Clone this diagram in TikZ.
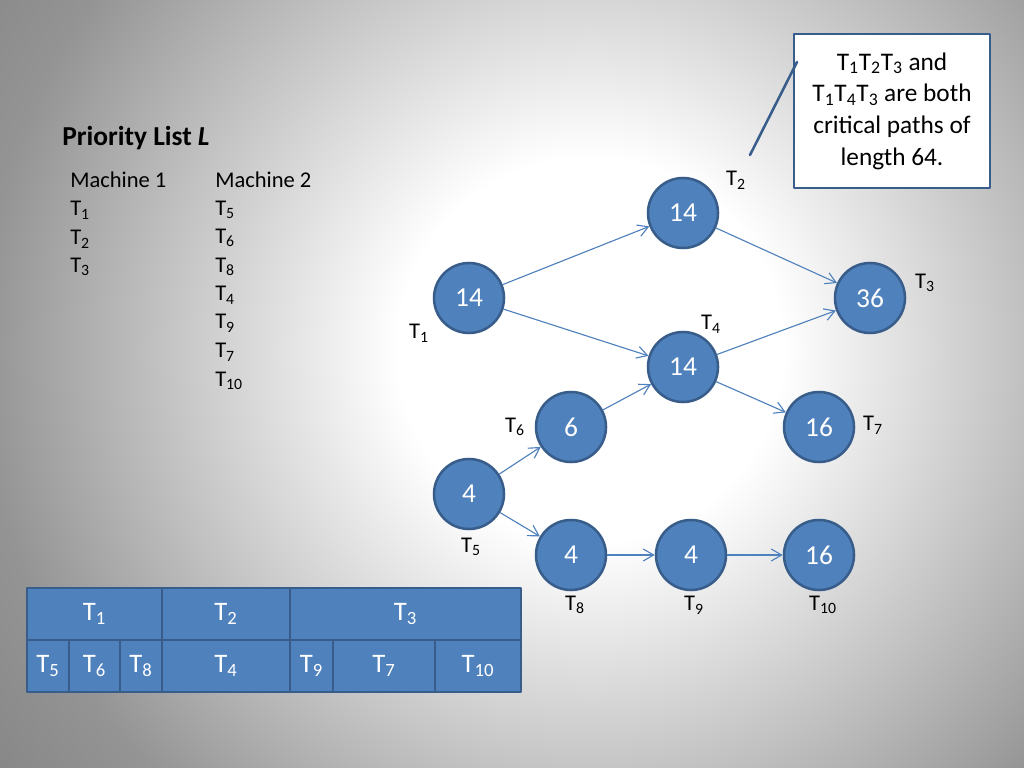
\documentclass[tikz,border=0pt]{standalone}
\usepackage{fontspec}
\setmainfont{Carlito}
\usetikzlibrary{arrows.meta}
\pgfdeclareradialshading{bgglow}{\pgfpoint{0bp}{0bp}}{%
  color(0bp)=(white); color(6bp)=(white); color(19bp)=(black!42); color(25bp)=(black!50); color(50bp)=(black!50)}
\newcommand{\tk}[1]{T\textsubscript{#1}}
\begin{document}
\begin{tikzpicture}[x=0.025cm,y=-0.025cm,line cap=round,line join=round,
  task/.style={circle,fill=nodefill,draw=nodeedge,line width=1.8pt,minimum size=70*0.025cm,
    inner sep=0pt,text=white,font=\fontsize{19.5}{21}\selectfont},
  tlabel/.style={font=\fontsize{16}{18}\selectfont,inner sep=0pt},
  listtxt/.style={anchor=west,font=\fontsize{16}{18}\selectfont,inner sep=0pt},
  prec/.style={draw=nodefill,line width=0.8pt,-{Straight Barb[length=2.6mm,width=3mm]}},
  cell/.style={fill=nodefill,draw=nodeedge,line width=1.4pt},
  celltxt/.style={text=white,font=\fontsize{19}{21}\selectfont,inner sep=0pt}]
  \definecolor{nodefill}{RGB}{79,129,189}
  \definecolor{nodeedge}{RGB}{56,93,138}

  % ---- background ----
  \useasboundingbox (0,0) rectangle (1024,768);
  \begin{scope}
    \clip (0,0) rectangle (1024,768);
    \fill[black!50] (0,0) rectangle (1024,768);
    \shade[shading=bgglow] (590,350) circle (800);
  \end{scope}

  % ---- priority list ----
  \node[anchor=west,inner sep=0pt,font=\bfseries\fontsize{19.5}{21}\selectfont] (title) at (62,138) {Priority List \textit{L}};
  \node[listtxt] (m1) at (70,180) {Machine 1};
  \node[listtxt] (m2) at (215,180) {Machine 2};
  \foreach \t/\y in {1/210,2/239,3/267} {
    \node[listtxt] (la\t) at (70,\y) {\tk{\t}};
  }
  \foreach \t/\y in {5/210,6/238,8/267,4/295,9/323,7/352,10/381} {
    \node[listtxt] (lb\t) at (215,\y) {\tk{\t}};
  }

  % ---- task graph ----
  \node[task] (t1) at (469,298) {14};
  \node[task] (t2) at (683,213) {14};
  \node[task] (t3) at (870,298) {36};
  \node[task] (t4) at (683,367) {14};
  \node[task] (t5) at (469,494) {4};
  \node[task] (t6) at (571,427) {6};
  \node[task] (t7) at (819,427) {16};
  \node[task] (t8) at (571,555) {4};
  \node[task] (t9) at (691,555) {4};
  \node[task] (t10) at (819,555) {16};

  \node[tlabel] (n1) at (419,333) {\tk{1}};
  \node[tlabel] (n2) at (736,180) {\tk{2}};
  \node[tlabel] (n3) at (925,283) {\tk{3}};
  \node[tlabel] (n4) at (711,324) {\tk{4}};
  \node[tlabel] (n5) at (471,547) {\tk{5}};
  \node[tlabel] (n6) at (515,427) {\tk{6}};
  \node[tlabel] (n7) at (873,425) {\tk{7}};
  \node[tlabel] (n8) at (575,605) {\tk{8}};
  \node[tlabel] (n9) at (694,605) {\tk{9}};
  \node[tlabel] (n10) at (823,605) {\tk{10}};

  \foreach \a/\b in {t1/t2,t1/t4,t2/t3,t4/t3,t4/t7,t6/t4,t5/t6,t5/t8,t8/t9,t9/t10} {
    \draw[prec] (\a) -- (\b);
  }

  % ---- callout ----
  \node[draw=nodeedge,fill=white,line width=1.6pt,minimum width=196*0.025cm,minimum height=154*0.025cm,
    align=center,font=\fontsize{18}{22.5}\selectfont] (note) at (892,111)
    {\tk{1}\tk{2}\tk{3} and\\ \tk{1}\tk{4}\tk{3} are both\\ critical paths of\\ length 64.};
  \coordinate (tip) at (750,155);
  \coordinate (root) at (797,62);
  \draw[nodeedge,line width=1.8pt] (root) -- (tip);

  % ---- schedule ----
  \foreach \a/\c/\t in {27/162/1,162/290/2,290/521/3} {
    \draw[cell] (\a,588) rectangle (\c,640);
    \node[celltxt] (ga\t) at ({(\a+\c)/2},614) {\tk{\t}};
  }
  \foreach \a/\c/\t in {27/69/5,69/120/6,120/162/8,162/290/4,290/333/9,333/435/7,435/521/10} {
    \draw[cell] (\a,640) rectangle (\c,692);
    \node[celltxt] (gb\t) at ({(\a+\c)/2},666) {\tk{\t}};
  }
\end{tikzpicture}
\end{document}
